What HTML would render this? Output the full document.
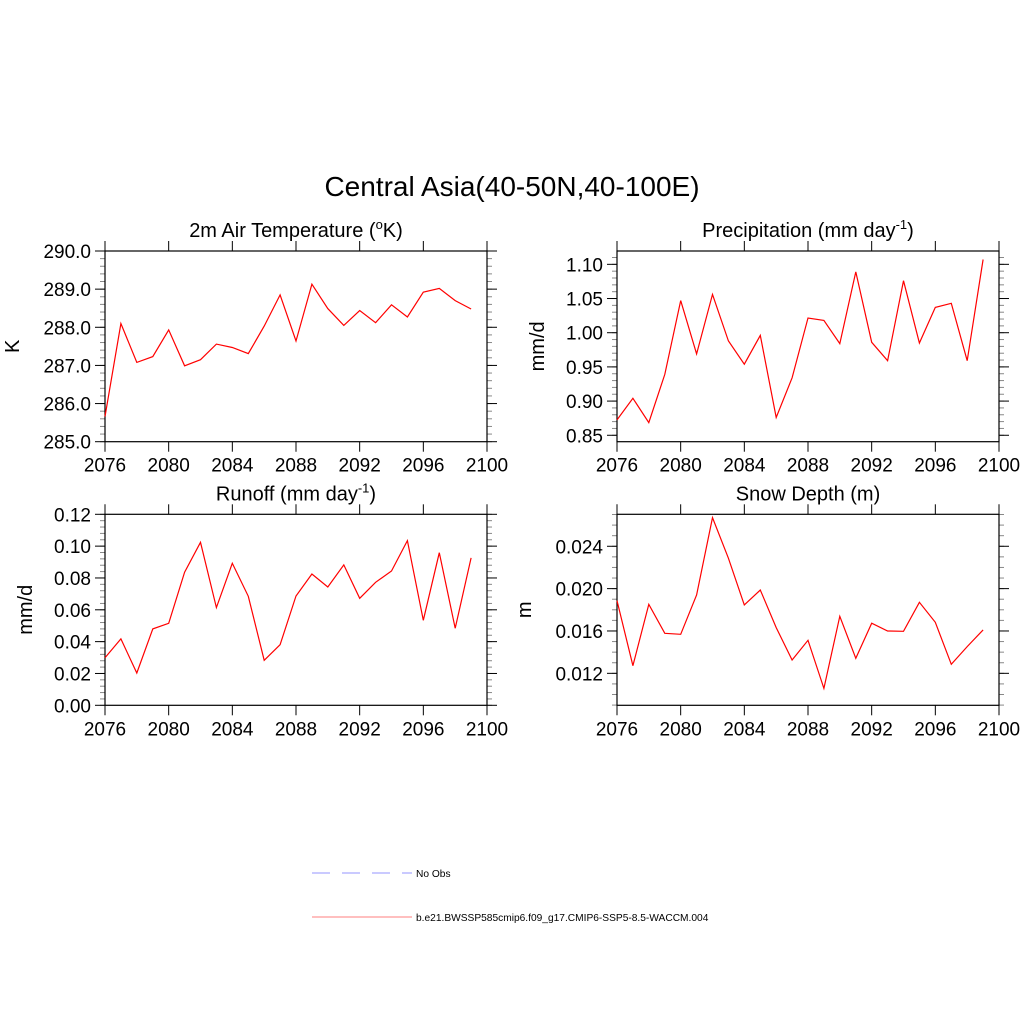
<!DOCTYPE html>
<html><head><meta charset="utf-8"><style>
body{margin:0;background:#fff;}
svg text{font-family:"Liberation Sans",sans-serif;fill:#000;}
</style></head><body>
<svg id="chart" width="1024" height="1024" viewBox="0 0 1024 1024" xmlns="http://www.w3.org/2000/svg">
<rect width="1024" height="1024" fill="#fff"/>
<text x="512" y="196" font-size="28" text-anchor="middle">Central Asia(40-50N,40-100E)</text>
<g>
<line x1="312" y1="873" x2="412" y2="873" stroke="#aaaaff" stroke-width="1.2" stroke-dasharray="18,12"/>
<text x="416" y="877" font-size="10.2">No Obs</text>
<line x1="312" y1="917" x2="412" y2="917" stroke="#ff9999" stroke-width="1.2"/>
<text x="416" y="921" font-size="10.2">b.e21.BWSSP585cmip6.f09_g17.CMIP6-SSP5-8.5-WACCM.004</text>
</g>
</svg>
<script>
const years = [2076,2077,2078,2079,2080,2081,2082,2083,2084,2085,2086,2087,2088,2089,2090,2091,2092,2093,2094,2095,2096,2097,2098,2099];
const xTicks = [2076,2080,2084,2088,2092,2096,2100];
const tempValues = [285.66,288.10,287.08,287.23,287.93,286.99,287.15,287.56,287.47,287.31,288.03,288.85,287.64,289.13,288.49,288.05,288.44,288.12,288.59,288.27,288.92,289.02,288.70,288.48];
const precValues = [0.8725,0.904,0.8685,0.939,1.047,0.969,1.056,0.988,0.954,0.996,0.876,0.934,1.0215,1.018,0.984,1.089,0.986,0.959,1.076,0.985,1.037,1.043,0.959,1.107];
const runoffValues = [0.0299,0.0417,0.0203,0.048,0.0515,0.0836,0.1024,0.0614,0.0892,0.0685,0.0283,0.0381,0.0687,0.0825,0.0743,0.0882,0.0672,0.0773,0.0844,0.1035,0.0534,0.0959,0.0484,0.0926];
const snowValues = [0.01887,0.01272,0.01852,0.01578,0.01569,0.0194,0.02671,0.02287,0.01846,0.01987,0.01632,0.01326,0.01512,0.01058,0.01739,0.01342,0.01673,0.016,0.01597,0.01871,0.01682,0.01285,0.01452,0.0161];
const tempTicks = [285,286,287,288,289,290];
const precTicks = [0.85,0.90,0.95,1.00,1.05,1.10];
const runoffTicks = [0,0.02,0.04,0.06,0.08,0.10,0.12];
const snowTicks = [0.012,0.016,0.020,0.024];

const NS='http://www.w3.org/2000/svg';
const svg=document.getElementById('chart');
function mk(tag,attrs,parent){const e=document.createElementNS(NS,tag);for(const k in attrs)e.setAttribute(k,attrs[k]);(parent||svg).appendChild(e);return e;}

function panel(o){
  const g=mk('g',{});
  
  
  const L=o.x0,R=o.x1,T=o.y0,B=o.y1;
  const xs=v=>L+(v-2076)/(2100-2076)*(R-L);
  const ys=v=>B-(v-o.ymin)/(o.ymax-o.ymin)*(B-T);
  for(let v=o.minorStart; v<=o.ymax+1e-9; v+=o.minor){
    const y=ys(v); if(y<T-0.5||y>B+0.5) continue;
    const t1=mk('line',{x1:L-5,y1:y,x2:L,y2:y,stroke:'#888','stroke-width':1},g);
    
    
    const t2=mk('line',{x1:R,y1:y,x2:R+5,y2:y,stroke:'#888','stroke-width':1},g);
    
    
  }
  o.yt.forEach(v=>{
    const y=ys(v);
    mk('line',{x1:L-10,y1:y,x2:L,y2:y,stroke:'#000','stroke-width':1},g);
    mk('line',{x1:R,y1:y,x2:R+10,y2:y,stroke:'#000','stroke-width':1},g);
    const t=mk('text',{x:L-14,y:y+7,'font-size':19,'text-anchor':'end'},g);
    t.textContent=v.toFixed(o.dec);
    
    
  });
  xTicks.forEach(v=>{
    const x=xs(v);
    mk('line',{x1:x,y1:B,x2:x,y2:B+10,stroke:'#000','stroke-width':1},g);
    mk('line',{x1:x,y1:T-10,x2:x,y2:T,stroke:'#000','stroke-width':1},g);
    const t=mk('text',{x:x,y:B+30,'font-size':19,'text-anchor':'middle'},g);
    t.textContent=v;
    
    
  });
  const box=mk('rect',{x:L,y:T,width:R-L,height:B-T,fill:'none',stroke:'#000','stroke-width':1.2},g);
  
  
  const pts=years.map((yr,i)=>xs(yr).toFixed(1)+','+ys(o.vals[i]).toFixed(1)).join(' ');
  const pl=mk('polyline',{points:pts,fill:'none',stroke:'#ff0000','stroke-width':1.2},g);
  
  
  const ti=mk('text',{x:(L+R)/2,y:T-14,'font-size':20,'text-anchor':'middle'},g);
  ti.innerHTML=o.title;
  
  
  const yl=mk('text',{x:0,y:0,'font-size':20,'text-anchor':'middle',transform:`translate(${o.ylx},${(T+B)/2}) rotate(-90)`},g);
  yl.textContent=o.ylabel;
  
  
}
panel({name:'temperature-panel',x0:105,x1:487,y0:251,y1:441.7,ymin:285,ymax:290,yt:tempTicks,dec:1,minor:0.2,minorStart:285,vals:tempValues,
  title:'2m Air Temperature (<tspan font-size="13" dy="-8">o</tspan><tspan dy="8">K)</tspan>',ylabel:'K',ylx:19});
panel({name:'precipitation-panel',x0:617,x1:999,y0:251,y1:441.7,ymin:0.8406,ymax:1.1195,yt:precTicks,dec:2,minor:0.01,minorStart:0.85,vals:precValues,
  title:'Precipitation (mm day<tspan font-size="13" dy="-8">-1</tspan><tspan dy="8">)</tspan>',ylabel:'mm/d',ylx:544});
panel({name:'runoff-panel',x0:105,x1:487,y0:514.3,y1:705.3,ymin:0,ymax:0.12,yt:runoffTicks,dec:2,minor:0.004,minorStart:0,vals:runoffValues,
  title:'Runoff (mm day<tspan font-size="13" dy="-8">-1</tspan><tspan dy="8">)</tspan>',ylabel:'mm/d',ylx:32});
panel({name:'snow-depth-panel',x0:617,x1:999,y0:514.3,y1:705.3,ymin:0.00898,ymax:0.02702,yt:snowTicks,dec:3,minor:0.001,minorStart:0.009,vals:snowValues,
  title:'Snow Depth (m)',ylabel:'m',ylx:531});
</script>
</body></html>
